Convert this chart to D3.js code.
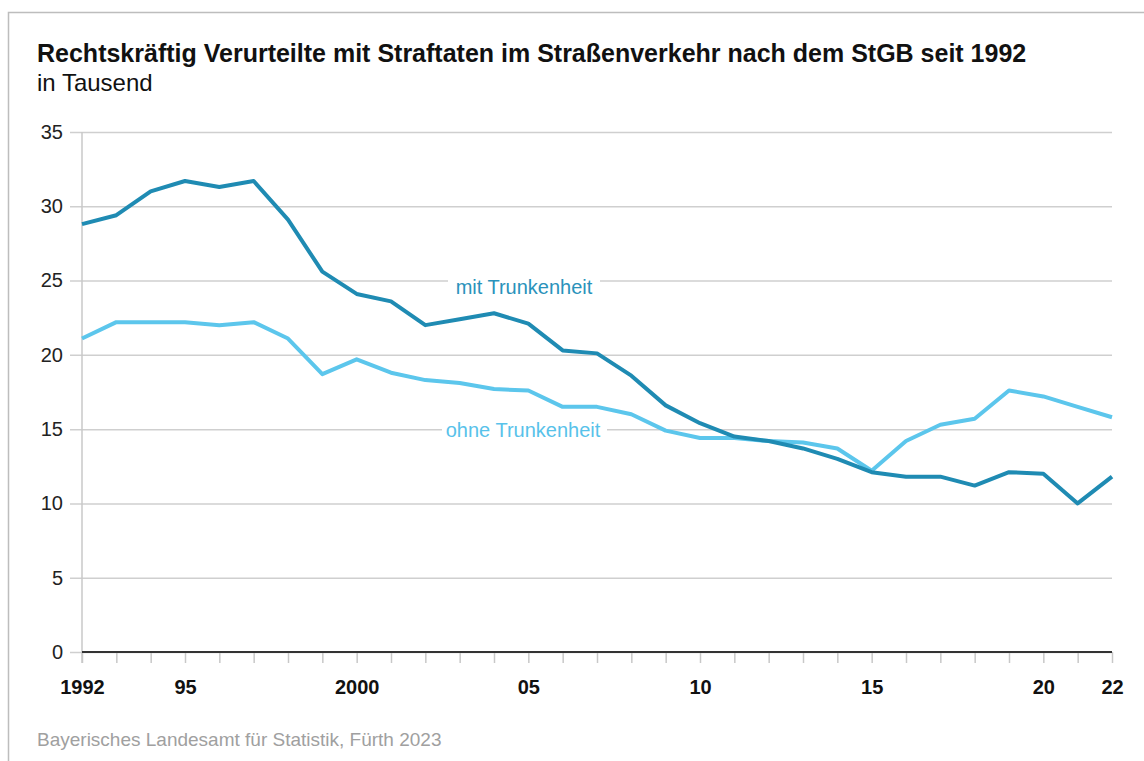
<!DOCTYPE html>
<html>
<head>
<meta charset="utf-8">
<script src="https://cdn.jsdelivr.net/npm/d3@7"></script>
<style>
  body { margin: 0; background: #fff; }
  text { font-family: "Liberation Sans", Arial, sans-serif; }
</style>
</head>
<body>
<svg id="chart" width="1144" height="761"></svg>
<script>
// values in thousands, 1992 - 2022
let years = d3.range(1992, 2023);
let mitTrunkenheit = [28.8, 29.4, 31.0, 31.7, 31.3, 31.7, 29.1, 25.6, 24.1, 23.6,
  22.0, 22.4, 22.8, 22.1, 20.3, 20.1, 18.6, 16.6, 15.4, 14.5,
  14.2, 13.7, 13.0, 12.1, 11.8, 11.8, 11.2, 12.1, 12.0, 10.0, 11.8];
let ohneTrunkenheit = [21.1, 22.2, 22.2, 22.2, 22.0, 22.2, 21.1, 18.7, 19.7, 18.8,
  18.3, 18.1, 17.7, 17.6, 16.5, 16.5, 16.0, 14.9, 14.4, 14.4,
  14.2, 14.1, 13.7, 12.2, 14.2, 15.3, 15.7, 17.6, 17.2, 16.5, 15.8];
let yTicks = [0, 5, 10, 15, 20, 25, 30, 35];
let xLabels = { 1992: "1992", 1995: "95", 2000: "2000", 2005: "05", 2010: "10", 2015: "15", 2020: "20", 2022: "22" };

let colMit = "#1f8bb3";
let colOhne = "#5cc6ec";

let svg = d3.select("#chart");

// frame
svg.append("path")
  .attr("d", "M8.5,761 L8.5,12.5 L1144,12.5")
  .attr("fill", "none")
  .attr("stroke", "#bdbdbd")
  .attr("stroke-width", 1.5);

// titles
svg.append("text")
  .attr("x", 37).attr("y", 62)
  .attr("font-size", 25).attr("font-weight", "bold").attr("fill", "#111")
  .text("Rechtskräftig Verurteilte mit Straftaten im Straßenverkehr nach dem StGB seit 1992");
svg.append("text")
  .attr("x", 37).attr("y", 91)
  .attr("font-size", 24).attr("fill", "#111")
  .text("in Tausend");

let x = d3.scaleLinear().domain([1992, 2022]).range([82, 1112]);
let y = d3.scaleLinear().domain([0, 35]).range([652, 132]);

// gridlines + y axis
let yAxis = d3.axisLeft(y)
  .tickValues(yTicks)
  .tickSize(-(1112 - 70))
  .tickPadding(7);
let gy = svg.append("g").attr("transform", "translate(1112,0)").call(yAxis);
gy.select(".domain").remove();
gy.selectAll(".tick line")
  .attr("x1", 70 - 1112)
  .attr("x2", 0)
  .attr("stroke", "#cfcfcf")
  .attr("stroke-width", 1.5);
gy.selectAll(".tick text")
  .attr("x", 63 - 1112)
  .attr("font-size", 20)
  .attr("fill", "#222")
  .attr("font-family", "Liberation Sans, Arial, sans-serif");

// left vertical axis line
svg.append("line")
  .attr("x1", x(1992)).attr("x2", x(1992))
  .attr("y1", y(35)).attr("y2", 663)
  .attr("stroke", "#c8c8c8").attr("stroke-width", 1.5);

// label backgrounds breaking gridlines
svg.append("rect").attr("x", 448).attr("y", y(25) - 3).attr("width", 152).attr("height", 6).attr("fill", "#fff");
svg.append("rect").attr("x", 442).attr("y", y(15) - 3).attr("width", 165).attr("height", 6).attr("fill", "#fff");

// x axis
let xAxis = d3.axisBottom(x)
  .tickValues(years)
  .tickSize(11)
  .tickFormat((d) => xLabels[d] || "");
let gx = svg.append("g").attr("transform", "translate(0," + y(0) + ")").call(xAxis);
gx.select(".domain").remove();
gx.selectAll(".tick line").attr("stroke", "#c8c8c8").attr("stroke-width", 1.5);
gx.selectAll(".tick text")
  .attr("y", 42)
  .attr("dy", null)
  .attr("font-size", 20)
  .attr("font-weight", "bold")
  .attr("fill", "#111")
  .attr("font-family", "Liberation Sans, Arial, sans-serif");

svg.append("line")
  .attr("x1", x(1992)).attr("x2", x(2022))
  .attr("y1", y(0)).attr("y2", y(0))
  .attr("stroke", "#333").attr("stroke-width", 2);

// lines
let line = d3.line()
  .x((d, i) => x(years[i]))
  .y((d) => y(d));

svg.append("path")
  .datum(ohneTrunkenheit)
  .attr("d", line)
  .attr("fill", "none")
  .attr("stroke", colOhne)
  .attr("stroke-width", 4)
  .attr("stroke-linejoin", "round");

svg.append("path")
  .datum(mitTrunkenheit)
  .attr("d", line)
  .attr("fill", "none")
  .attr("stroke", colMit)
  .attr("stroke-width", 4)
  .attr("stroke-linejoin", "round");

// series labels
svg.append("text")
  .attr("x", 524).attr("y", y(25) + 13)
  .attr("text-anchor", "middle")
  .attr("font-size", 20).attr("fill", "#2a92bb")
  .text("mit Trunkenheit");
svg.append("text")
  .attr("x", 523).attr("y", y(15) + 8)
  .attr("text-anchor", "middle")
  .attr("font-size", 20).attr("fill", "#58c2ea")
  .text("ohne Trunkenheit");

// source
svg.append("text")
  .attr("x", 37).attr("y", 746)
  .attr("font-size", 19).attr("fill", "#a0a0a0")
  .text("Bayerisches Landesamt für Statistik, Fürth 2023");
</script>
</body>
</html>
